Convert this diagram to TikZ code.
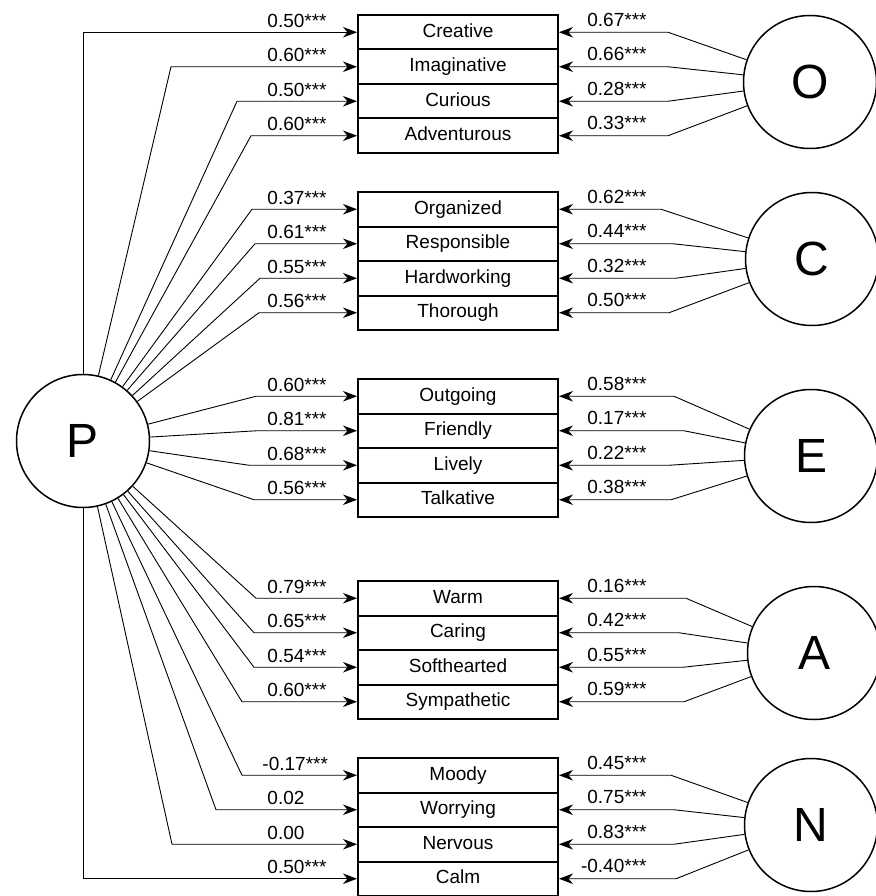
\documentclass[tikz,border=0pt]{standalone}
\usepackage{fontspec}
\setmainfont{Liberation Sans}
\usetikzlibrary{arrows.meta}

\tikzset{
	item/.style={draw, line width=2pt, minimum width=200pt, minimum height=34.5pt, inner sep=0pt, text height=14pt, text depth=4pt},
	trait/.style={circle, draw, line width=1.5pt, minimum size=133pt, inner sep=0pt, font=\fontsize{48}{48}\selectfont},
	path/.style={line width=0.9pt, -{Stealth[length=14pt,width=10.5pt,inset=4.5pt]}},
	llbl/.style={anchor=base west, xshift=-90pt, yshift=5pt, inner sep=0pt},
	rlbl/.style={anchor=base east, xshift=88pt, yshift=6pt, inner sep=0pt}
}

\begin{document}
\begin{tikzpicture}[x=1pt, y=-1pt, font=\fontsize{19}{22}\selectfont]
	\useasboundingbox (0,0) rectangle (875,896);

	% factors
	\node[trait] (P) at (83,441) {P};
	\node[trait] (O) at (810,82) {O};
	\node[trait] (C) at (812,259) {C};
	\node[trait] (E) at (811,456) {E};
	\node[trait] (A) at (814,653) {A};
	\node[trait] (N) at (811,825) {N};

	% items
	\node[item] (cre) at (458,32.25) {Creative};
	\node[item] (ima) at (458,66.75) {Imaginative};
	\node[item] (cur) at (458,101.25) {Curious};
	\node[item] (adv) at (458,135.75) {Adventurous};

	\node[item] (org) at (458,209.25) {Organized};
	\node[item] (res) at (458,243.75) {Responsible};
	\node[item] (har) at (458,278.25) {Hardworking};
	\node[item] (tho) at (458,312.75) {Thorough};

	\node[item] (out) at (458,396.25) {Outgoing};
	\node[item] (fri) at (458,430.75) {Friendly};
	\node[item] (liv) at (458,465.25) {Lively};
	\node[item] (tal) at (458,499.75) {Talkative};

	\node[item] (war) at (458,598.25) {Warm};
	\node[item] (car) at (458,632.75) {Caring};
	\node[item] (sof) at (458,667.25) {Softhearted};
	\node[item] (sym) at (458,701.75) {Sympathetic};

	\node[item] (moo) at (458,775.25) {Moody};
	\node[item] (wor) at (458,809.75) {Worrying};
	\node[item] (ner) at (458,844.25) {Nervous};
	\node[item] (calm) at (458,878.75) {Calm};

	% P loadings
	\draw[path] (P) |- (cre.west) node[llbl]{0.50***};
	\draw[path] (P) -- ([xshift=-186pt]ima.west) -- (ima.west) node[llbl]{0.60***};
	\draw[path] (P) -- ([xshift=-120pt]cur.west) -- (cur.west) node[llbl]{0.50***};
	\draw[path] (P) -- ([xshift=-106pt]adv.west) -- (adv.west) node[llbl]{0.60***};
	\draw[path] (P) -- ([xshift=-105pt]org.west) -- (org.west) node[llbl]{0.37***};
	\draw[path] (P) -- ([xshift=-102pt]res.west) -- (res.west) node[llbl]{0.61***};
	\draw[path] (P) -- ([xshift=-97pt]har.west) -- (har.west) node[llbl]{0.55***};
	\draw[path] (P) -- ([xshift=-98pt]tho.west) -- (tho.west) node[llbl]{0.56***};
	\draw[path] (P) -- ([xshift=-101pt]out.west) -- (out.west) node[llbl]{0.60***};
	\draw[path] (P) -- ([xshift=-100pt]fri.west) -- (fri.west) node[llbl]{0.81***};
	\draw[path] (P) -- ([xshift=-108pt]liv.west) -- (liv.west) node[llbl]{0.68***};
	\draw[path] (P) -- ([xshift=-103pt]tal.west) -- (tal.west) node[llbl]{0.56***};
	\draw[path] (P) -- ([xshift=-101pt]war.west) -- (war.west) node[llbl]{0.79***};
	\draw[path] (P) -- ([xshift=-103pt]car.west) -- (car.west) node[llbl]{0.65***};
	\draw[path] (P) -- ([xshift=-103pt]sof.west) -- (sof.west) node[llbl]{0.54***};
	\draw[path] (P) -- ([xshift=-115pt]sym.west) -- (sym.west) node[llbl]{0.60***};
	\draw[path] (P) -- ([xshift=-115pt]moo.west) -- (moo.west) node[llbl, xshift=-5pt]{-0.17***};
	\draw[path] (P) -- ([xshift=-141pt]wor.west) -- (wor.west) node[llbl]{0.02};
	\draw[path] (P) -- ([xshift=-185pt]ner.west) -- (ner.west) node[llbl]{0.00};
	\draw[path] (P) |- (calm.west) node[llbl]{0.50***};

	% trait loadings
	\draw[path] (O) -- ([xshift=109pt]cre.east) -- (cre.east) node[rlbl]{0.67***};
	\draw[path] (O) -- ([xshift=109pt]ima.east) -- (ima.east) node[rlbl]{0.66***};
	\draw[path] (O) -- ([xshift=109pt]cur.east) -- (cur.east) node[rlbl]{0.28***};
	\draw[path] (O) -- ([xshift=109pt]adv.east) -- (adv.east) node[rlbl]{0.33***};
	\draw[path] (C) -- ([xshift=102pt]org.east) -- (org.east) node[rlbl]{0.62***};
	\draw[path] (C) -- ([xshift=114pt]res.east) -- (res.east) node[rlbl]{0.44***};
	\draw[path] (C) -- ([xshift=117pt]har.east) -- (har.east) node[rlbl]{0.32***};
	\draw[path] (C) -- ([xshift=110pt]tho.east) -- (tho.east) node[rlbl]{0.50***};
	\draw[path] (E) -- ([xshift=115pt]out.east) -- (out.east) node[rlbl]{0.58***};
	\draw[path] (E) -- ([xshift=125pt]fri.east) -- (fri.east) node[rlbl]{0.17***};
	\draw[path] (E) -- ([xshift=110pt]liv.east) -- (liv.east) node[rlbl]{0.22***};
	\draw[path] (E) -- ([xshift=112pt]tal.east) -- (tal.east) node[rlbl]{0.38***};
	\draw[path] (A) -- ([xshift=127pt]war.east) -- (war.east) node[rlbl]{0.16***};
	\draw[path] (A) -- ([xshift=120pt]car.east) -- (car.east) node[rlbl]{0.42***};
	\draw[path] (A) -- ([xshift=124pt]sof.east) -- (sof.east) node[rlbl]{0.55***};
	\draw[path] (A) -- ([xshift=125pt]sym.east) -- (sym.east) node[rlbl]{0.59***};
	\draw[path] (N) -- ([xshift=112pt]moo.east) -- (moo.east) node[rlbl]{0.45***};
	\draw[path] (N) -- ([xshift=115pt]wor.east) -- (wor.east) node[rlbl]{0.75***};
	\draw[path] (N) -- ([xshift=115pt]ner.east) -- (ner.east) node[rlbl]{0.83***};
	\draw[path] (N) -- ([xshift=117pt]calm.east) -- (calm.east) node[rlbl]{-0.40***};
\end{tikzpicture}
\end{document}
